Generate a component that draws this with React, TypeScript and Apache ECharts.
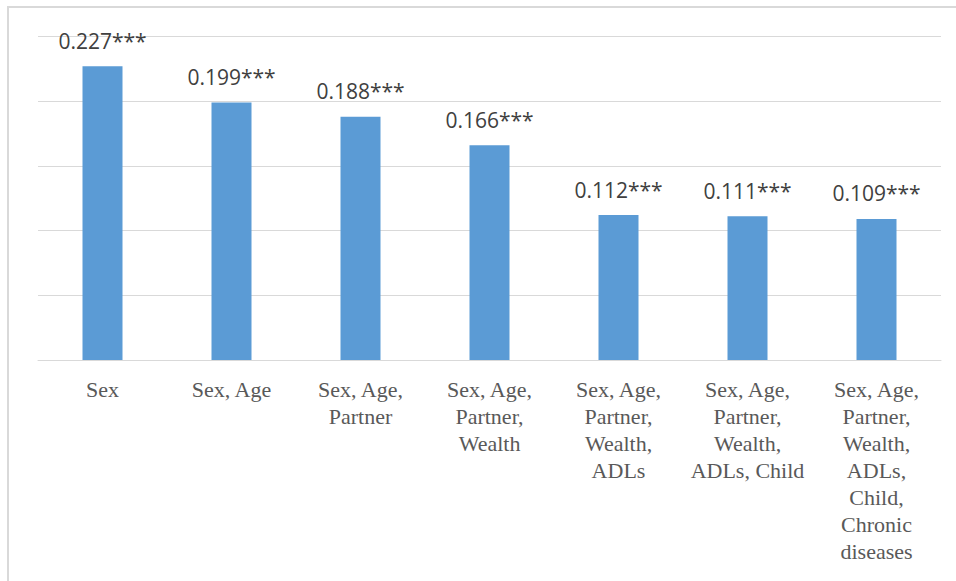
import React, { useEffect, useRef } from "react";
import * as echarts from "echarts";

const categories: string[] = [
  "Sex",
  "Sex, Age",
  "Sex, Age,\nPartner",
  "Sex, Age,\nPartner,\nWealth",
  "Sex, Age,\nPartner,\nWealth,\nADLs",
  "Sex, Age,\nPartner,\nWealth,\nADLs, Child",
  "Sex, Age,\nPartner,\nWealth,\nADLs,\nChild,\nChronic\ndiseases",
];
const values: number[] = [0.227, 0.199, 0.188, 0.166, 0.112, 0.111, 0.109];
const stars: string[] = ["***", "***", "***", "***", "***", "***", "***"];

export default function App() {
  const ref = useRef<HTMLDivElement>(null);
  useEffect(() => {
    document.body.style.margin = "0";
    const chart = echarts.init(ref.current!, null, { renderer: "svg" });
    chart.setOption({
      animation: false,
      backgroundColor: "#ffffff",
      graphic: [
        {
          type: "rect",
          shape: { x: 8, y: 7, width: 1000, height: 700 },
          style: { fill: "none", stroke: "#d9d9d9", lineWidth: 2 },
          silent: true,
        },
      ],
      grid: { left: 38, right: 15, top: 36.5, bottom: 221, containLabel: false },
      xAxis: {
        type: "category",
        data: categories,
        axisLine: { show: true, lineStyle: { color: "#d9d9d9", width: 1 } },
        axisTick: { show: false },
        axisLabel: {
          interval: 0,
          margin: 16,
          fontFamily: "Liberation Serif",
          fontSize: 22,
          lineHeight: 27,
          color: "#595959",
          align: "center",
        },
      },
      yAxis: {
        type: "value",
        min: 0,
        max: 0.25,
        interval: 0.05,
        axisLabel: { show: false },
        axisLine: { show: false },
        axisTick: { show: false },
        splitLine: { lineStyle: { color: "#d9d9d9", width: 1 } },
      },
      series: [
        {
          type: "bar",
          data: values,
          barWidth: 40,
          itemStyle: { color: "#5b9bd5" },
          label: {
            show: true,
            position: "top",
            distance: 15,
            fontFamily: "Open Sans",
            fontSize: 21,
            color: "#404040",
            formatter: (p: any) => `${values[p.dataIndex].toFixed(3)}${stars[p.dataIndex]}`,
          },
        },
      ],
    });
    return () => chart.dispose();
  }, []);
  return <div ref={ref} style={{ width: 956, height: 581 }} />;
}
